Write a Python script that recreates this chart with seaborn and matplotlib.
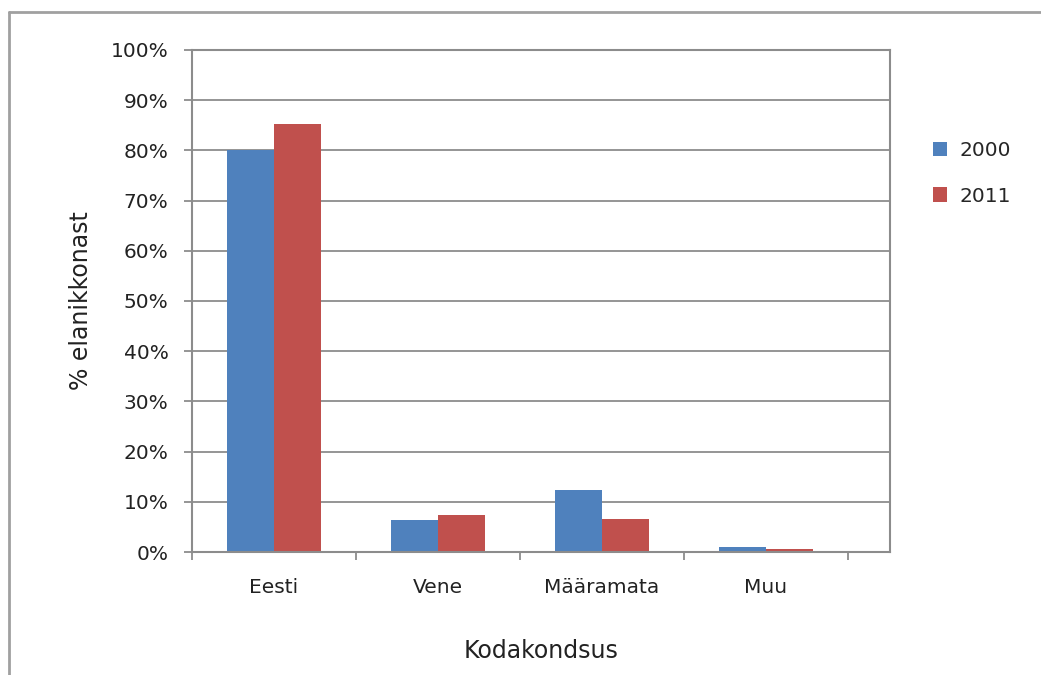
import pandas as pd
import seaborn as sns
import matplotlib
matplotlib.use('Agg')
import matplotlib.pyplot as plt
from matplotlib.ticker import PercentFormatter, FixedLocator
from matplotlib.lines import Line2D

categories = ['Eesti', 'Vene', 'Määramata', 'Muu']
years = ['2000', '2011']
values_2000 = [80.0, 6.4, 12.4, 0.9]
values_2011 = [85.2, 7.3, 6.5, 0.5]
colors = ['#4F81BD', '#C0504D']

rows = []
for cat, v in zip(categories, values_2000):
    rows.append({'Kodakondsus': cat, 'Aasta': '2000', 'Osa': v})
for cat, v in zip(categories, values_2011):
    rows.append({'Kodakondsus': cat, 'Aasta': '2011', 'Osa': v})
df = pd.DataFrame(rows)

sns.set_theme(style='white')
plt.rcParams['font.family'] = ['DejaVu Sans']

fig = plt.figure(figsize=(10.41, 6.75), dpi=100)
ax = fig.add_axes([192 / 1041, 123 / 675, 698 / 1041, 502 / 675])

sns.barplot(data=df, x='Kodakondsus', y='Osa', hue='Aasta', order=categories,
            hue_order=years, palette=colors, width=0.573, gap=0, saturation=1,
            linewidth=0, ax=ax)

grey = '#8c8c8c'
ax.set_ylim(0, 100)
ax.set_xlim(-0.5, -0.5 + 698 / 164)
ax.set_yticks(range(0, 101, 10))
ax.yaxis.set_major_formatter(PercentFormatter(xmax=100, decimals=0))
ax.yaxis.grid(True, color=grey, linewidth=1.3)
ax.set_axisbelow(True)
for s in ax.spines.values():
    s.set_color(grey)
    s.set_linewidth(1.5)

ax.tick_params(axis='y', which='major', direction='out', length=6, width=1.3,
               color=grey, left=True, pad=11, labelsize=14.5, labelcolor='#222222')
ax.xaxis.set_minor_locator(FixedLocator([-0.5, 0.5, 1.5, 2.5, 3.5]))
ax.tick_params(axis='x', which='major', length=0, pad=19, labelsize=14.5,
               labelcolor='#222222')
ax.tick_params(axis='x', which='minor', direction='out', length=6, width=1.3,
               color=grey, bottom=True)

ax.set_xlabel('Kodakondsus', fontsize=17, labelpad=30, color='#222222')
ax.set_ylabel('% elanikkonast', fontsize=17, labelpad=13, color='#222222')

ax.legend(loc='upper left', bbox_to_anchor=(1.05, 0.834), frameon=False,
          fontsize=14.5, handlelength=0.7, handleheight=0.7, handletextpad=0.6,
          labelspacing=1.3, borderaxespad=0)

# outer chart border
fig.add_artist(Line2D([9 / 1041, 9 / 1041], [0, 1 - 12 / 675],
                      color='#a0a0a0', linewidth=2, transform=fig.transFigure))
fig.add_artist(Line2D([9 / 1041, 1], [1 - 12 / 675, 1 - 12 / 675],
                      color='#a0a0a0', linewidth=2, transform=fig.transFigure))

plt.savefig('out.png', dpi=100)
